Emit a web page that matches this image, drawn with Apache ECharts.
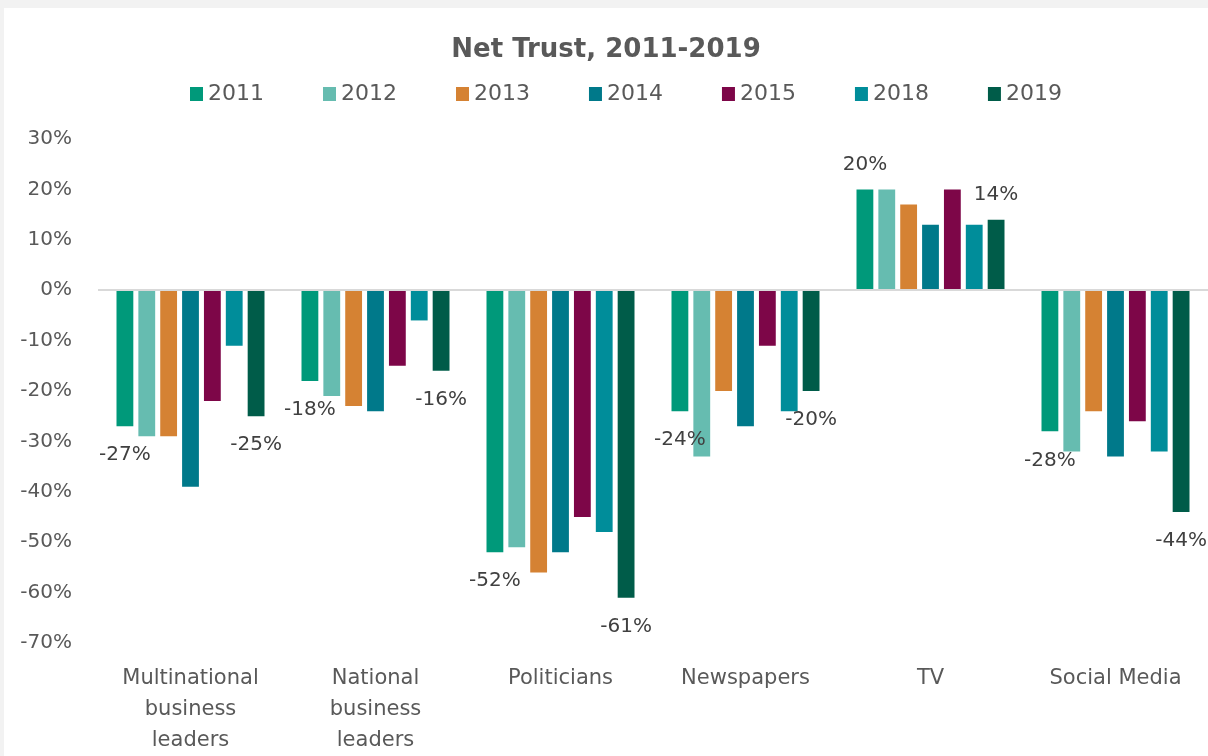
<!DOCTYPE html>
<html>
<head>
<meta charset="utf-8">
<script src="https://cdn.jsdelivr.net/npm/echarts@6/dist/echarts.min.js"></script>
<style>
  html, body { margin: 0; padding: 0; background: #f2f2f2; }
  #chart { position: absolute; left: 4px; top: 8px; width: 1204px; height: 748px; background: #ffffff; }
</style>
</head>
<body>
<div id="chart"></div>
<script>
// Net trust by institution, percent
const categories = ['Multinational\nbusiness\nleaders', 'National\nbusiness\nleaders', 'Politicians', 'Newspapers', 'TV', 'Social Media'];
const years = ['2011', '2012', '2013', '2014', '2015', '2018', '2019'];
const net2011 = [-27, -18, -52, -24, 20, -28];
const net2012 = [-29, -21, -51, -33, 20, -32];
const net2013 = [-29, -23, -56, -20, 17, -24];
const net2014 = [-39, -24, -52, -27, 13, -33];
const net2015 = [-22, -15, -45, -11, 20, -26];
const net2018 = [-11, -6, -48, -24, 13, -32];
const net2019 = [-25, -16, -61, -20, 14, -44];
const yMin = -70, yMax = 30, yStep = 10;

const seriesValues = [net2011, net2012, net2013, net2014, net2015, net2018, net2019];
const colors = ['#00997a', '#66bcb0', '#d58233', '#00798a', '#7d0648', '#008d9a', '#005c49'];
const labelledYears = ['2011', '2019'];
const FONT = 'DejaVu Sans';

const series = years.map((year, i) => {
  const showLabel = labelledYears.includes(year);
  return {
    name: year,
    type: 'bar',
    barGap: '30%',
    barCategoryGap: '20%',
    itemStyle: { color: colors[i] },
    data: seriesValues[i].map(v => ({
      value: v,
      label: {
        show: showLabel,
        position: v < 0 ? 'bottom' : 'top',
        distance: v < 0 ? 19 : 15,
        formatter: '{c}%',
        color: '#404040',
        fontFamily: FONT,
        fontSize: 20
      }
    })),
    markLine: i === 0 ? {
      silent: true,
      symbol: 'none',
      label: { show: false },
      lineStyle: { color: '#d9d9d9', width: 2, type: 'solid' },
      data: [{ yAxis: 0 }]
    } : undefined,
    z: 3
  };
});

const chart = echarts.init(document.getElementById('chart'));
chart.setOption({
  animation: false,
  backgroundColor: '#ffffff',
  title: {
    text: 'Net Trust, 2011-2019',
    left: 'center',
    top: 24,
    textStyle: { fontFamily: FONT, fontSize: 26, fontWeight: 'bold', color: '#595959' }
  },
  legend: {
    data: years,
    left: 181,
    top: 70,
    icon: 'rect',
    itemWidth: 13,
    itemHeight: 14,
    itemGap: 59,
    textStyle: { fontFamily: FONT, fontSize: 22, color: '#595959' }
  },
  grid: { left: 94, right: 0, top: 131, bottom: 113, containLabel: false },
  xAxis: {
    type: 'category',
    data: categories,
    axisLine: { show: false, onZero: false },
    axisTick: { show: false },
    axisLabel: {
      interval: 0,
      margin: 20,
      fontFamily: FONT,
      fontSize: 21,
      lineHeight: 31,
      color: '#595959'
    }
  },
  yAxis: {
    type: 'value',
    min: yMin,
    max: yMax,
    interval: yStep,
    axisLine: { show: false },
    axisTick: { show: false },
    splitLine: { show: false },
    axisLabel: {
      formatter: '{value}%',
      margin: 26,
      fontFamily: FONT,
      fontSize: 20,
      color: '#595959'
    }
  },
  series: series
});
</script>
</body>
</html>
